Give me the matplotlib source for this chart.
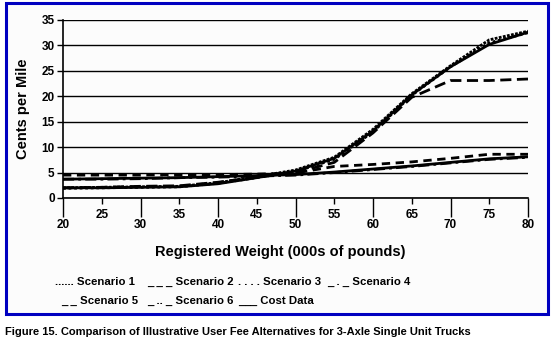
import matplotlib.pyplot as plt
from matplotlib.patches import Rectangle

plt.rcParams['font.family'] = ['Liberation Sans', 'DejaVu Sans']

# registered weight (000s of pounds)
weight = [20, 25, 30, 35, 40, 45, 50, 55, 60, 65, 70, 75, 80]

# cents per mile
scen1 = [2.0, 2.1, 2.2, 2.3, 3.0, 4.2, 5.5, 8.0, 13.5, 20.5, 26.0, 31.1, 32.8]
scen2 = [4.5, 4.5, 4.5, 4.6, 4.6, 4.7, 4.9, 6.2, 6.6, 7.1, 7.8, 8.6, 8.6]
scen3 = [1.9, 2.0, 2.1, 2.2, 2.9, 4.0, 5.2, 7.6, 13.0, 20.2, 25.8, 30.5, 32.5]
scen4 = [3.7, 3.7, 3.8, 4.0, 4.1, 4.3, 4.5, 5.0, 5.6, 6.2, 6.9, 7.6, 8.0]
scen5 = [2.0, 2.1, 2.3, 2.4, 3.1, 4.1, 5.0, 7.0, 12.8, 19.8, 23.1, 23.1, 23.4]
scen6 = [3.7, 3.8, 3.9, 4.0, 4.2, 4.4, 4.6, 5.1, 5.7, 6.3, 7.0, 7.7, 8.1]
cost = [2.0, 2.0, 2.1, 2.2, 2.8, 4.0, 5.3, 7.8, 13.2, 20.3, 25.8, 30.2, 32.6]

yticks = [0, 5, 10, 15, 20, 25, 30, 35]

fig = plt.figure(figsize=(5.53, 3.45), dpi=100)
fig.patch.set_facecolor('white')

# blue frame around the chart
frame = Rectangle((6 / 553, 1 - 314 / 345), 542 / 553, 311 / 345,
                  transform=fig.transFigure, facecolor='#fcfcfc',
                  edgecolor='#0000c0', linewidth=2.2, zorder=-10)
fig.patches.append(frame)

ax = fig.add_axes([63 / 553, 1 - 198 / 345, 465 / 553, 178 / 345])
ax.set_facecolor('none')

lw = 2.0
ax.plot(weight, scen2, color='black', lw=lw, linestyle=(0, (3, 2)))
ax.plot(weight, scen4, color='black', lw=lw, linestyle=(0, (4, 1.5, 1, 1.5)))
ax.plot(weight, scen6, color='black', lw=lw)
ax.plot(weight, scen5, color='black', lw=lw, linestyle=(0, (4, 2)))
ax.plot(weight, scen3, color='black', lw=lw, linestyle=(0, (1, 1)))
ax.plot(weight, scen1, color='black', lw=lw, linestyle=(0, (1, 0.5)))
ax.plot(weight, cost, color='black', lw=lw)

ax.set_xlim(20, 80)
ax.set_ylim(0, 35)
ax.set_yticks(yticks)
ax.set_yticklabels([str(v) for v in yticks], fontsize=8.5, fontweight='bold')
ax.yaxis.grid(True, color='black', linewidth=1.0)
ax.set_axisbelow(True)

# long ticks at the tens, short ticks at the fives
ax.set_xticks(weight[::2])
ax.set_xticks(weight[1::2], minor=True)
ax.tick_params(axis='x', which='major', length=13.5, width=1, labelbottom=False)
ax.tick_params(axis='x', which='minor', length=4.5, width=1, labelbottom=False)
ax.tick_params(axis='y', length=4, width=1, pad=2)

# staggered labels: fives on the upper row, tens on the lower row
for i, w in enumerate(weight):
    off = -12.2 if i % 2 else -19.8
    ax.annotate(str(w), xy=(w, 0), xycoords=('data', 'axes fraction'),
                xytext=(0, off), textcoords='offset points',
                ha='center', va='center', fontsize=8.5, fontweight='bold')

for s in ['top', 'right']:
    ax.spines[s].set_visible(False)
ax.spines['left'].set_linewidth(1.2)
ax.spines['bottom'].set_linewidth(1.2)

ax.set_ylabel('Cents per Mile', fontsize=10.5, fontweight='bold', labelpad=8)
fig.text(280 / 553, 1 - 252 / 345, 'Registered Weight (000s of pounds)',
         fontsize=10.5, fontweight='bold', ha='center', va='center')

# legend written as text, like the original
row1 = [(55, '...... Scenario 1'), (147, '_ _ _ Scenario 2'),
        (238, '. . . . Scenario 3'), (327, '_ . _ Scenario 4')]
row2 = [(61, '_ _ Scenario 5'), (147, '_ .. _ Scenario 6'),
        (238, '___ Cost Data')]
for x, t in row1:
    fig.text(x / 553, 1 - 282 / 345, t, fontsize=8.2, fontweight='bold',
             ha='left', va='center')
for x, t in row2:
    fig.text(x / 553, 1 - 301 / 345, t, fontsize=8.2, fontweight='bold',
             ha='left', va='center')

fig.text(5 / 553, 1 - 332 / 345,
         'Figure 15. Comparison of Illustrative User Fee Alternatives for 3-Axle Single Unit Trucks',
         fontsize=8.0, fontweight='bold', ha='left', va='center')

fig.savefig('out.png', dpi=100)
